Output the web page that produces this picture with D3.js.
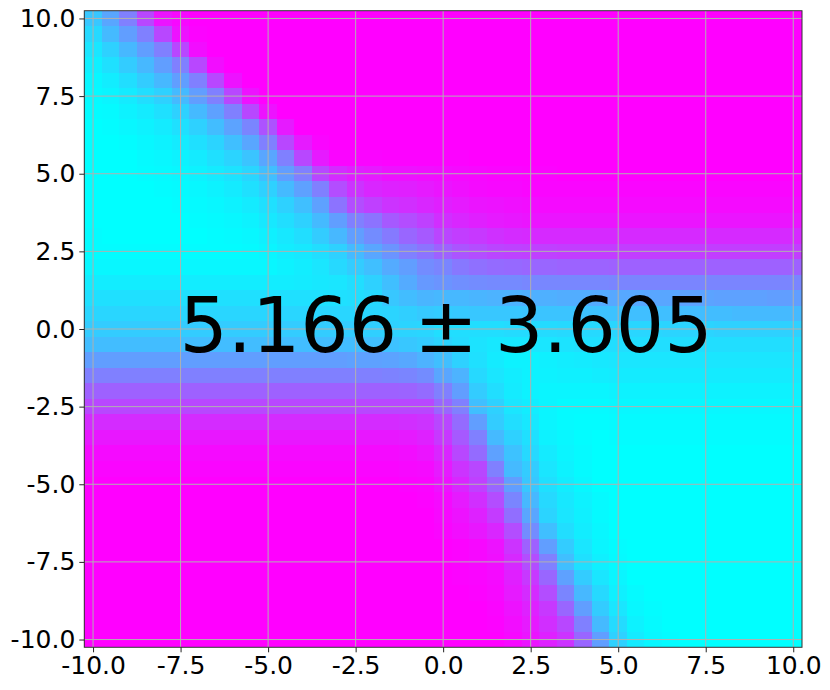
<!DOCTYPE html>
<html><head><meta charset="utf-8">
<script src="https://cdn.jsdelivr.net/npm/d3@7"></script>
<style>html,body{margin:0;padding:0;background:#fff}svg{display:block}</style>
</head><body><div id="c"></div>
<script>
const xTicks=[-10,-7.5,-5,-2.5,0,2.5,5,7.5,10];
const yTicks=[-10,-7.5,-5,-2.5,0,2.5,5,7.5,10];
const tickLabels=["-10.0","-7.5","-5.0","-2.5","0.0","2.5","5.0","7.5","10.0"];
const xBins=[-10,-9.5,-9,-8.5,-8,-7.5,-7,-6.5,-6,-5.5,-5,-4.5,-4,-3.5,-3,-2.5,-2,-1.5,-1,-0.5,0,0.5,1,1.5,2,2.5,3,3.5,4,4.5,5,5.5,6,6.5,7,7.5,8,8.5,9,9.5,10];
const yBins=xBins.slice().reverse();
const annotation="5.166 ± 3.605";
// Percent along the colormap, one row per y bin, top row first.
const r00=[22,35,50,72,92,97,100,100,100,100, 100,100,100,100,100,100,100,100,100,100, 100,100,100,100,100,100,100,100,100,100, 100,100,100,100,100,100,100,100,100,100, 100];
const r01=[15,27,38,50,72,93,99,100,100,100, 100,100,100,100,100,100,100,100,100,100, 100,100,100,100,100,100,100,100,100,100, 100,100,100,100,100,100,100,100,100,100, 100];
const r02=[10,18,28,38,50,72,95,100,100,100, 100,100,100,100,100,100,100,100,100,100, 100,100,100,100,100,100,100,100,100,100, 100,100,100,100,100,100,100,100,100,100, 100];
const r03=[6,12,20,28,38,50,72,95,100,100, 100,100,100,100,100,100,100,100,100,100, 100,100,100,100,100,100,100,100,100,100, 100,100,100,100,100,100,100,100,100,100, 100];
const r04=[3,7,13,20,28,38,50,72,93,100, 100,100,100,100,100,100,100,100,100,100, 100,100,100,100,100,100,100,100,100,100, 100,100,100,100,100,100,100,100,100,100, 100];
const r05=[2,4,8,13,18,27,38,50,72,93, 100,100,100,100,100,100,100,100,100,100, 100,100,100,100,100,100,100,100,100,100, 100,100,100,100,100,100,100,100,100,100, 100];
const r06=[1,2,5,8,12,18,27,37,50,72, 93,100,100,100,100,100,100,100,100,100, 100,100,100,100,100,100,100,100,100,100, 100,100,100,100,100,100,100,100,100,100, 100];
const r07=[0,1,3,5,8,12,18,26,36,48, 68,90,100,100,100,100,100,100,100,100, 100,100,100,100,100,100,100,100,100,100, 100,100,100,100,100,100,100,100,100,100, 100];
const r08=[0,0,1,3,5,8,12,17,25,35, 50,72,90,98,100,100,100,100,100,100, 100,100,100,100,100,100,100,100,100,100, 100,100,100,100,100,100,100,100,100,100, 100];
const r09=[0,0,0,2,3,5,8,12,17,23, 35,50,72,90,98,98,98,99,99,99, 99,99,100,100,100,100,100,100,100,100, 100,100,100,100,100,100,100,100,100,100, 100];
const r10=[0,0,0,1,2,3,5,8,11,16, 25,38,50,72,83,88,90,93,93,94, 95,96,97,98,98,99,99,100,100,100, 100,100,100,100,100,100,100,100,100,100, 100];
const r11=[0,0,0,0,1,2,3,5,8,12, 18,27,37,50,70,80,85,87,88,90, 92,94,96,97,97,98,98,98,98,98, 98,98,98,98,98,98,98,98,98,98, 98];
const r12=[0,0,0,0,0,1,2,3,5,8, 12,18,25,37,55,70,75,80,82,85, 88,90,92,93,94,95,96,96,96,96, 96,96,96,96,96,96,96,96,96,96, 96];
const r13=[0,0,0,0,0,0,1,2,3,5, 9,13,18,27,38,50,55,65,70,75, 82,85,88,90,91,92,92,92,92,92, 92,92,92,92,92,92,92,92,92,92, 92];
const r14=[1,0,0,0,0,0,0,1,2,3, 6,9,13,20,28,38,45,52,60,65, 73,76,78,81,83,84,84,84,84,84, 84,84,84,84,84,84,84,84,84,84, 84];
const r15=[1,1,1,1,1,1,1,1,1,2, 4,7,9,13,18,27,35,42,50,55, 62,67,70,73,74,75,75,76,76,76, 76,76,76,76,76,76,76,76,76,76, 76];
const r16=[3,3,3,3,3,3,3,3,3,3, 3,5,7,10,15,20,25,33,38,45, 48,53,56,58,59,60,60,61,61,61, 62,62,62,62,62,62,62,62,62,62, 62];
const r17=[7,7,7,7,7,7,7,7,7,7, 7,7,8,9,10,13,18,25,33,40, 42,44,45,46,46,47,47,47,47,47, 48,48,48,48,48,48,48,48,48,48, 48];
const r18=[12,12,12,12,12,12,12,12,12,12, 12,12,12,12,12,13,15,22,26,29, 28,28,29,30,30,31,31,32,32,33, 34,34,35,35,36,36,37,37,37,38, 38];
const r19=[16,16,16,16,16,16,16,16,16,16, 16,16,16,16,16,16,16,17,19,21, 20,21,22,22,22,23,23,23,24,24, 24,25,25,25,26,26,26,27,27,27, 27];
const r20=[20,20,20,20,20,20,20,20,20,20, 20,20,20,20,20,20,19,18,17,16, 13,13,13,13,14,14,14,15,15,15, 16,16,16,17,17,17,18,18,18,18, 18];
const r21=[26,26,26,26,26,26,26,26,26,26, 26,26,26,26,26,26,25,24,22,20, 17,14,11,9,9,10,10,11,12,12, 13,13,13,13,13,13,13,13,13,13, 13];
const r22=[38,38,38,38,38,38,38,38,38,38, 38,38,38,38,38,37,37,36,34,30, 25,18,12,8,5,5,6,7,8,9, 10,10,10,10,10,10,10,10,10,10, 10];
const r23=[50,50,50,50,50,50,50,50,50,50, 50,50,50,50,50,50,50,49,48,45, 35,30,15,10,7,5,5,6,6,7, 8,8,8,8,8,8,8,8,8,8, 8];
const r24=[62,62,62,62,62,62,62,62,62,62, 62,62,62,62,62,62,62,62,61,58, 50,38,20,13,8,5,4,4,4,4, 5,5,5,5,5,5,5,5,5,5, 5];
const r25=[72,72,72,72,72,72,72,72,72,72, 72,72,72,72,72,72,72,72,72,72, 60,50,25,18,10,7,4,2,2,2, 3,3,3,3,3,3,3,3,3,3, 3];
const r26=[83,83,83,83,83,83,83,83,83,83, 83,83,83,83,83,83,83,83,82,80, 72,58,38,20,13,9,4,2,1,1, 2,2,2,2,2,2,2,2,2,2, 2];
const r27=[91,91,91,91,91,91,91,91,91,91, 91,91,91,91,91,91,91,91,90,87, 78,65,50,27,18,12,5,3,1,0, 1,1,1,1,1,1,1,1,1,1, 1];
const r28=[96,96,96,96,96,96,96,96,96,96, 96,96,96,96,96,96,96,96,95,92, 85,72,58,37,24,15,8,4,2,0, 0,0,0,0,0,0,0,0,0,0, 0];
const r29=[98,98,98,98,98,98,98,98,98,98, 98,98,98,98,98,98,98,98,97,96, 90,80,72,50,27,20,10,5,2,0, 0,0,0,0,0,0,0,0,0,0, 0];
const r30=[100,100,100,100,100,100,100,100,100,100, 100,100,100,100,100,100,100,100,99,98, 93,85,75,60,38,22,12,7,3,0, 0,0,0,0,0,0,0,0,0,0, 0];
const r31=[100,100,100,100,100,100,100,100,100,100, 100,100,100,100,100,100,100,100,100,99, 96,90,82,70,48,28,15,9,5,2, 0,0,0,0,0,0,0,0,0,0, 0];
const r32=[100,100,100,100,100,100,100,100,100,100, 100,100,100,100,100,100,100,100,100,100, 97,93,87,77,57,35,17,10,6,2, 0,0,0,0,0,0,0,0,0,0, 0];
const r33=[100,100,100,100,100,100,100,100,100,100, 100,100,100,100,100,100,100,100,100,100, 98,95,91,85,70,45,25,13,7,3, 0,0,0,0,0,0,0,0,0,0, 0];
const r34=[100,100,100,100,100,100,100,100,100,100, 100,100,100,100,100,100,100,100,100,100, 100,99,97,93,80,62,38,20,10,4, 1,0,0,0,0,0,0,0,0,0, 0];
const r35=[100,100,100,100,100,100,100,100,100,100, 100,100,100,100,100,100,100,100,100,100, 100,99,97,94,84,70,50,25,12,6, 2,0,0,0,0,0,0,0,0,0, 0];
const r36=[100,100,100,100,100,100,100,100,100,100, 100,100,100,100,100,100,100,100,100,100, 100,99,98,96,88,78,60,37,20,10, 4,0,0,0,0,0,0,0,0,0, 0];
const r37=[100,100,100,100,100,100,100,100,100,100, 100,100,100,100,100,100,100,100,100,100, 100,100,99,97,90,83,70,48,28,15, 6,2,0,0,0,0,0,0,0,0, 0];
const r38=[100,100,100,100,100,100,100,100,100,100, 100,100,100,100,100,100,100,100,100,100, 100,100,100,98,93,87,78,60,38,20, 10,3,1,0,0,0,0,0,0,0, 0];
const r39=[100,100,100,100,100,100,100,100,100,100, 100,100,100,100,100,100,100,100,100,100, 100,100,100,99,95,90,82,72,50,27, 14,5,2,0,0,0,0,0,0,0, 0];
const r40=[100,100,100,100,100,100,100,100,100,100, 100,100,100,100,100,100,100,100,100,100, 100,100,100,100,97,92,87,80,60,38, 18,8,3,1,0,0,0,0,0,0, 0];
const grid=[r00,r01,r02,r03,r04,r05,r06,r07,r08,r09,r10,r11,r12,r13,r14,r15,r16,r17,r18,r19,r20,r21,r22,r23,r24,r25,r26,r27,r28,r29,r30,r31,r32,r33,r34,r35,r36,r37,r38,r39,r40];

const W=830,H=690;
const L=84.3,R=802,T=10.7,B=647.3;
const FONT='"DejaVu Sans",sans-serif';
const svg=d3.select("#c").append("svg").attr("width",W).attr("height",H).attr("viewBox",`0 0 ${W} ${H}`);
const x=d3.scaleLinear().domain([-10.25,10.25]).range([L,R]);
const y=d3.scaleLinear().domain([-10.25,10.25]).range([B,T]);
const color=d3.scaleLinear().domain([0,100]).range(["#00ffff","#ff00ff"]);

const cells=grid.flatMap((row,j)=>row.map((v,i)=>({x:xBins[i],y:yBins[j],v})));
svg.append("g").attr("shape-rendering","crispEdges").selectAll("rect").data(cells).join("rect")
  .attr("x",d=>x(d.x-0.25)).attr("y",d=>y(d.y+0.25))
  .attr("width",d=>x(d.x+0.25)-x(d.x-0.25)).attr("height",d=>y(d.y-0.25)-y(d.y+0.25))
  .attr("fill",d=>color(d.v));

const g=svg.append("g").attr("stroke","#b0b0b0").attr("stroke-width",1);
g.selectAll(".gx").data(xTicks).join("line").attr("x1",d=>x(d)).attr("x2",d=>x(d)).attr("y1",T).attr("y2",B);
g.selectAll(".gy").data(yTicks).join("line").attr("y1",d=>y(d)).attr("y2",d=>y(d)).attr("x1",L).attr("x2",R);

svg.append("rect").attr("x",L).attr("y",T).attr("width",R-L).attr("height",B-T)
  .attr("fill","none").attr("stroke","#333").attr("stroke-width",1);

const fmt=d=>tickLabels[xTicks.indexOf(d)];
const ax=svg.append("g").attr("transform",`translate(0,${B})`)
  .call(d3.axisBottom(x).tickValues(xTicks).tickFormat(fmt).tickSize(5).tickPadding(4));
const ay=svg.append("g").attr("transform",`translate(${L},0)`)
  .call(d3.axisLeft(y).tickValues(yTicks).tickFormat(fmt).tickSize(5).tickPadding(4));
[ax,ay].forEach(a=>{
  a.select(".domain").remove();
  a.selectAll("line").attr("stroke","#222");
  a.selectAll("text").attr("font-family",FONT).attr("font-size",25).attr("fill","#000");
});

svg.append("text").attr("x",446).attr("y",352).attr("text-anchor","middle")
  .attr("font-family",FONT).attr("font-size",76).attr("fill","#000")
  .attr("word-spacing",-7).text(annotation);
</script></body></html>
